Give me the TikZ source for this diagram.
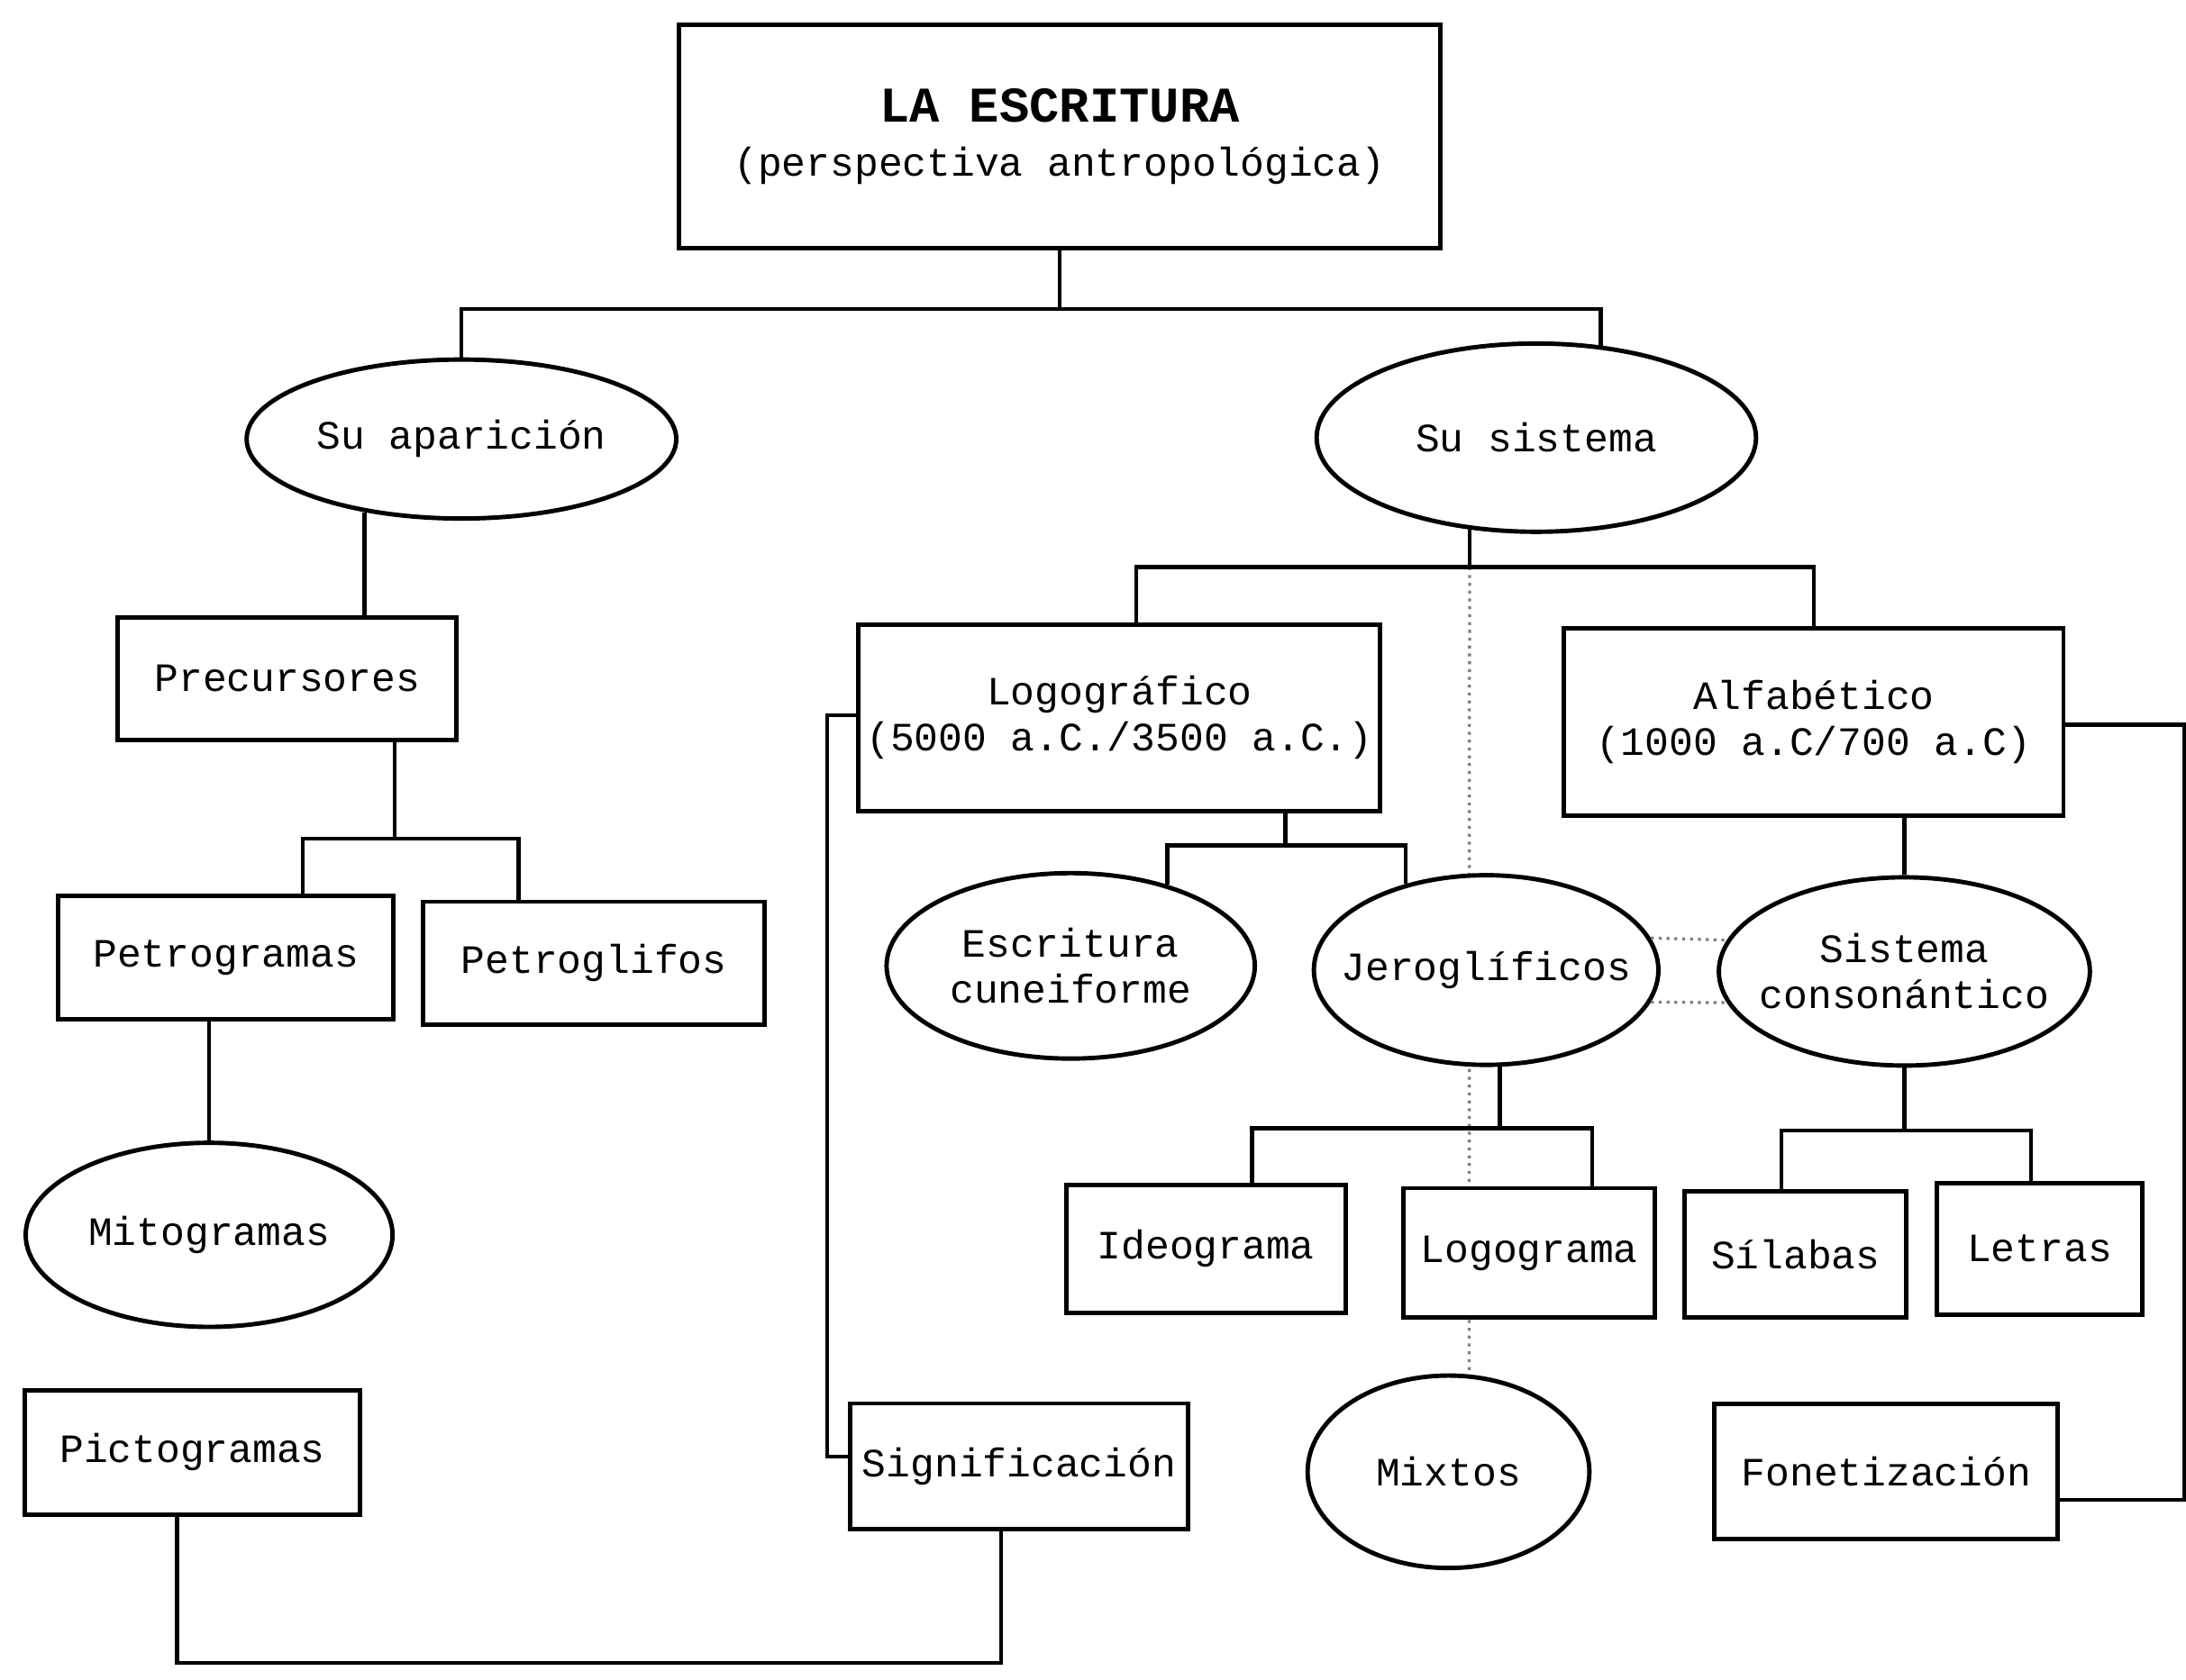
\documentclass[tikz,border=0pt]{standalone}
\usepackage{fontspec}
\setmonofont{Liberation Mono}
\usetikzlibrary{shapes.geometric, backgrounds}

\tikzset{
  box/.style={rectangle, draw, line width=0.9pt, fill=white, inner sep=1pt, align=center,
    font=\ttfamily\fontsize{8.2}{9.4}\selectfont},
  oval/.style={ellipse, draw, line width=0.9pt, fill=white, inner sep=-0.45cm, align=center,
    font=\ttfamily\fontsize{8.2}{9.4}\selectfont},
  link/.style={line width=0.8pt},
  dots/.style={densely dotted, gray, line width=0.6pt}
}

\begin{document}
\begin{tikzpicture}[x=0.01cm, y=-0.01cm]
    \useasboundingbox (0,0) rectangle (1568,1205);

    % Title
    \node[box, minimum width=5.46cm, minimum height=1.6cm] (tit) at (760,98)
      {{\fontsize{10.2}{11}\selectfont\bfseries LA ESCRITURA}\\[1.7pt] (perspectiva antropol\'ogica)};

    % First level
    \node[oval, minimum width=3.08cm, minimum height=1.14cm] (apa) at (331,315) {Su aparici\'on};
    \node[oval, minimum width=3.15cm, minimum height=1.35cm] (sis) at (1102,314) {Su sistema};

    % Left branch
    \node[box, minimum width=2.43cm, minimum height=0.88cm] (pre) at (206,487) {Precursores};
    \node[box, minimum width=2.40cm, minimum height=0.88cm] (ptg) at (162,687) {Petrogramas};
    \node[box, minimum width=2.45cm, minimum height=0.88cm] (ptl) at (426,691) {Petroglifos};
    \node[oval, minimum width=2.63cm, minimum height=1.32cm] (mit) at (150,886) {Mitogramas};
    \node[box, minimum width=2.40cm, minimum height=0.89cm] (pic) at (138,1042) {Pictogramas};
    \node[box, minimum width=2.42cm, minimum height=0.90cm] (sig) at (731,1052) {Significaci\'on};

    % Right branch
    \node[box, minimum width=3.74cm, minimum height=1.34cm] (logo) at (803,515)
      {Logogr\'afico\\(5000 a.C./3500 a.C.)};
    \node[box, minimum width=3.58cm, minimum height=1.34cm] (alf) at (1301,518)
      {Alfab\'etico\\(1000 a.C/700 a.C)};
    \node[oval, minimum width=2.64cm, minimum height=1.33cm] (esc) at (768,693) {Escritura\\cuneiforme};
    \node[oval, minimum width=2.47cm, minimum height=1.36cm] (jer) at (1066,696) {Jerogl\'ificos};
    \node[oval, minimum width=2.66cm, minimum height=1.35cm] (con) at (1366,697) {Sistema\\conson\'antico};
    \node[box, minimum width=2.00cm, minimum height=0.92cm] (ide) at (865,896) {Ideograma};
    \node[box, minimum width=1.80cm, minimum height=0.93cm] (lgr) at (1097,899) {Logograma};
    \node[box, minimum width=1.59cm, minimum height=0.91cm] (sil) at (1288,900) {S\'ilabas};
    \node[box, minimum width=1.47cm, minimum height=0.94cm] (let) at (1463,896) {Letras};
    \node[oval, minimum width=2.02cm, minimum height=1.38cm] (mix) at (1039,1056) {Mixtos};
    \node[box, minimum width=2.46cm, minimum height=0.97cm] (fon) at (1353,1056) {Fonetizaci\'on};

    % Connections
    \draw[link] (tit.south) -- ++(0,42) coordinate (t1) (apa.north) |- (t1) -| (sis.55);
    \draw[link] (apa.217) -- (apa.217 |- pre.north);
    \draw[link] ([xshift=0.77cm]pre.south) -- ++(0,69) coordinate (p1);
    \draw[link] ([xshift=0.55cm]ptg.north) |- (p1) -| ([xshift=-0.54cm]ptl.north);
    \draw[link] (mit.north) -- (mit.north |- ptg.south);
    \draw[link] ([xshift=-0.11cm]pic.south) -- ++(0,105) -| ([xshift=-0.13cm]sig.south);
    \draw[link] ([yshift=0.02cm]logo.west) -- ++(-21,0) |- ([yshift=0.07cm]sig.west);

    \draw[link] (sis.234) -- ++(0,27) coordinate (s1);
    \draw[link] ([xshift=0.12cm]logo.north) |- (s1) -| (alf.north);
    \draw[link] ([xshift=1.19cm]logo.south) -- ++(0,23) coordinate (l1);
    \draw[link] (esc.40) |- (l1) -| (jer.133);
    \draw[link] (con.north) -- (con.north |- alf.south);
    \draw[link] (jer.278) -- ++(0,44) coordinate (j1);
    \draw[link] ([xshift=0.33cm]ide.north) |- (j1) -| ([xshift=0.45cm]lgr.north);
    \draw[link] (con.south) -- ++(0,45) coordinate (c1);
    \draw[link] ([xshift=-0.1cm]sil.north) |- (c1) -| ([xshift=-0.06cm]let.north);
    \draw[link] ([yshift=-0.02cm]alf.east) -- ++(85,0) |- ([yshift=-0.2cm]fon.east);

    % Dotted relations
    \draw[dots] (jer.11) -- (con.170);
    \draw[dots] (jer.-11) -- (con.190);
    \begin{pgfonlayer}{background}
      \draw[dots] (s1) -- (mix.78);
    \end{pgfonlayer}
\end{tikzpicture}
\end{document}
